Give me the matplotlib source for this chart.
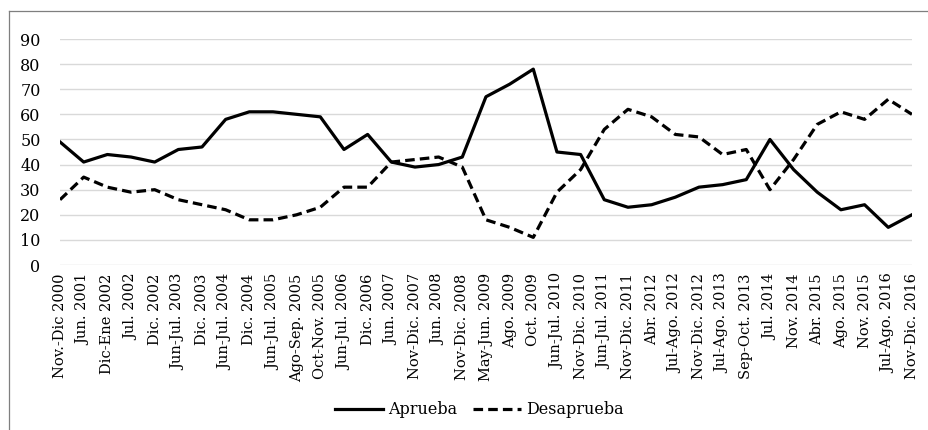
import matplotlib.pyplot as plt
from matplotlib.lines import Line2D

plt.rcParams['font.family'] = ['DejaVu Serif', 'Liberation Serif']

fechas = ["Nov.-Dic 2000", "Jun. 2001", "Dic-Ene 2002", "Jul. 2002", "Dic. 2002",
          "Jun-Jul. 2003", "Dic. 2003", "Jun-Jul. 2004", "Dic. 2004", "Jun-Jul. 2005",
          "Ago-Sep. 2005", "Oct-Nov. 2005", "Jun-Jul. 2006", "Dic. 2006", "Jun. 2007",
          "Nov-Dic. 2007", "Jun. 2008", "Nov-Dic. 2008", "May-Jun. 2009", "Ago. 2009",
          "Oct. 2009", "Jun-Jul. 2010", "Nov-Dic. 2010", "Jun-Jul. 2011", "Nov-Dic. 2011",
          "Abr. 2012", "Jul-Ago. 2012", "Nov-Dic. 2012", "Jul-Ago. 2013", "Sep-Oct. 2013",
          "Jul. 2014", "Nov. 2014", "Abr. 2015", "Ago. 2015", "Nov. 2015",
          "Jul-Ago. 2016", "Nov-Dic. 2016"]

aprueba = [49, 41, 44, 43, 41, 46, 47, 58, 61, 61, 60, 59, 46, 52, 41, 39, 40, 43,
           67, 72, 78, 45, 44, 26, 23, 24, 27, 31, 32, 34, 50, 38, 29, 22, 24, 15, 20]

desaprueba = [26, 35, 31, 29, 30, 26, 24, 22, 18, 18, 20, 23, 31, 31, 41, 42, 43, 39,
              18, 15, 11, 29, 38, 54, 62, 59, 52, 51, 44, 46, 30, 42, 56, 61, 58, 66, 60]

fig = plt.figure(figsize=(9.29, 4.30), dpi=100)
ax = fig.add_axes([0.0646, 0.3837, 0.917, 0.5256])

x = range(len(fechas))
ax.plot(x, aprueba, color="black", linewidth=2.3, label="Aprueba")
ax.plot(x, desaprueba, color="black", linewidth=2.3, linestyle=(0, (3, 1.6)), label="Desaprueba")

ax.set_xlim(0, len(fechas) - 1)
ax.set_ylim(0, 90)
ax.set_yticks(range(0, 91, 10))
ax.set_xticks(list(x))
ax.set_xticklabels(fechas, rotation=90, fontsize=10.5)
ax.tick_params(axis="y", labelsize=11.5, length=0, pad=14)
ax.tick_params(axis="x", length=0, pad=6)
ax.grid(axis="y", color="#d9d9d9", linewidth=1)
ax.set_axisbelow(True)
for s in ax.spines.values():
    s.set_visible(False)

fig.legend(loc="center", bbox_to_anchor=(0.516, 0.047), ncol=2, frameon=False,
           fontsize=11.5, handlelength=3.0, columnspacing=1.0, handletextpad=0.3)

# frame edges of the chart (only left and top show in the crop)
fig.add_artist(Line2D([0.0102, 0.0102], [0.0, 0.9744], transform=fig.transFigure,
                      color="#7f7f7f", linewidth=0.9))
fig.add_artist(Line2D([0.0102, 1.0], [0.9744, 0.9744], transform=fig.transFigure,
                      color="#7f7f7f", linewidth=0.9))

fig.savefig("out.png", dpi=100)
